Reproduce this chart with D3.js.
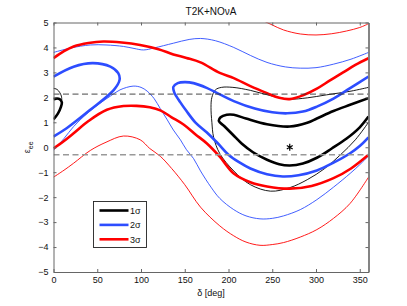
<!DOCTYPE html>
<html>
<head>
<meta charset="utf-8">
<script src="https://cdn.jsdelivr.net/npm/d3@7"></script>
<style>
  body { margin: 0; background: #fff; }
  text { font-family: "Liberation Sans", Arial, sans-serif; fill: #111; }
</style>
</head>
<body>
<div class="contain"></div>
<script>
// tick labels
const xTicks = [0, 50, 100, 150, 200, 250, 300, 350];
const yTicks = [-5, -4, -3, -2, -1, 0, 1, 2, 3, 4, 5];
const legendLabels = ["1σ", "2σ", "3σ"];

// contours, [delta, eps_ee]
// 3 sigma, thick
const red3ThickUp = [[0,3.57],[12,3.85],[23,4.04],[40,4.18],[57,4.24],[78,4.2],[99,4.1],[120,3.93],[137,3.72],[152,3.58],[168,3.4],[190,2.98],[206,2.77],[225,2.45],[244,2.17],[258,1.98],[270,1.93],[285,2.08],[301,2.35],[316,2.68],[331,3.0],[345,3.3],[360,3.57]];
const red3ThickLow = [[0,-0.05],[12,0.25],[23,0.56],[40,1.05],[61,1.5],[80,1.65],[95,1.66],[110,1.6],[122,1.48],[135,1.2],[149,0.9],[162,0.52],[175,0.16],[190,-0.38],[206,-1.05],[225,-1.4],[244,-1.57],[270,-1.66],[295,-1.55],[320,-1.24],[340,-0.85],[360,-0.3]];
// 3 sigma, thin
const red3ThinUp = [[238,5.1],[250,4.9],[263,4.7],[282,4.54],[300,4.5],[318,4.55],[335,4.66],[350,4.8],[360,4.95]];
const red3ThinLow = [[0,-1.2],[12,-0.92],[23,-0.64],[42,-0.13],[60,0.2],[80,0.45],[99,0.3],[110,-0.05],[122,-0.36],[135,-0.85],[150,-1.5],[168,-2.4],[190,-3.15],[206,-3.55],[220,-3.8],[236,-3.93],[250,-3.9],[263,-3.82],[282,-3.6],[301,-3.3],[320,-2.85],[339,-2.25],[360,-1.2]];
// 2 sigma, thick
const blue2ThickL = [[0,2.83],[23,3.23],[45,3.37],[65,3.23],[74,2.97],[75.5,2.7],[69,2.3],[42,1.5],[15,0.76],[0,0.43]];
const blue2ThickR = [[360,2.83],[339,2.37],[320,1.95],[301,1.63],[285,1.43],[267,1.36],[250,1.4],[230,1.55],[206,1.85],[190,2.12],[175,2.38],[160,2.57],[150,2.61],[142,2.57],[137,2.42],[138,2.2],[145,1.8],[152,1.45],[162,1.0],[175,0.6],[188,0.15],[200,-0.3],[212,-0.6],[225,-0.85],[244,-1.08],[262,-1.17],[280,-1.12],[301,-0.93],[320,-0.62],[339,-0.24],[350,0.05],[360,0.4]];
// 2 sigma, thin
const blue2ThinUp = [[0,3.8],[20,3.98],[42,4.1],[60,4.1],[80,4.04],[92,3.96],[103,3.9],[115,3.98],[137,4.17],[155,4.32],[168,4.36],[185,4.27],[206,4.0],[225,3.68],[244,3.4],[265,3.22],[282,3.17],[300,3.19],[320,3.33],[340,3.53],[360,3.8]];
const blue2ThinLow = [[0,-0.12],[12,0.35],[23,0.83],[40,1.4],[53,1.76],[65,2.05],[76,2.3],[91,2.45],[100,2.4],[107,2.25],[115,1.95],[122,1.55],[130,1.1],[137,0.69],[145,0.3],[152,-0.1],[160,-0.45],[168,-0.95],[180,-1.6],[190,-2.05],[206,-2.5],[220,-2.75],[236,-2.87],[250,-2.85],[263,-2.75],[282,-2.5],[301,-2.1],[320,-1.6],[339,-1.05],[350,-0.7],[360,-0.35]];
// 1 sigma, thick
const black1ThickL = [[0,1.12],[5,1.35],[8.5,1.62],[9.5,1.8],[7,1.93],[3,1.95],[0,1.92]];
const black1ThickR = [[360,1.97],[339,1.7],[320,1.45],[301,1.15],[290,0.98],[270,0.83],[244,0.92],[220,1.15],[206,1.3],[198,1.3],[191,1.2],[189,1.05],[195,0.85],[205,0.5],[215,0.15],[228,-0.2],[244,-0.5],[258,-0.68],[270,-0.73],[285,-0.65],[301,-0.42],[318,-0.05],[335,0.35],[350,0.8],[360,1.23]];
// 1 sigma, thin
const black1ThinL = [[0,2.36],[4,2.32],[7,2.2],[9,2.05],[9.5,1.9]];
const black1ThinR = [[360,2.4],[340,2.25],[312,2.1],[290,1.98],[270,1.93],[250,2.05],[225,2.28],[205,2.4],[192,2.4],[185,2.3],[181,2.0],[180,1.6],[181,1.0],[183,0.4],[190,-0.25],[206,-0.95],[225,-1.5],[248,-1.76],[270,-1.62],[290,-1.3],[310,-0.85],[328,-0.3],[345,0.3],[360,1.0]];

// reference lines and best fit
const refLines = [2.13, -0.3];
const bestFit = [[270, 0]];

const W = 407, H = 306;
const m = {left: 53.5, right: 38.5, top: 22.5, bottom: 34};

const svg = d3.select(".contain").append("svg")
  .attr("width", W).attr("height", H);

const x = d3.scaleLinear().domain([0, 360]).range([m.left, W - m.right]);
const y = d3.scaleLinear().domain([-5, 5]).range([H - m.bottom, m.top]);

svg.append("defs").append("clipPath").attr("id", "clip")
  .append("rect")
  .attr("x", m.left).attr("y", m.top)
  .attr("width", x(360) - x(0)).attr("height", y(-5) - y(5));

const line = d3.line()
  .x(d => x(d[0])).y(d => y(d[1]))
  .curve(d3.curveCatmullRom.alpha(0.5));

const plot = svg.append("g").attr("clip-path", "url(#clip)");

const RED = "#ff0000", BLUE = "#2d4dff", BLACK = "#000";
const curves = [
  [red3ThinUp, RED, 0.9], [red3ThinLow, RED, 0.9],
  [blue2ThinUp, BLUE, 0.9], [blue2ThinLow, BLUE, 0.9],
  [black1ThinL, BLACK, 0.9], [black1ThinR, BLACK, 0.9],
  [red3ThickUp, RED, 2.6], [red3ThickLow, RED, 2.6],
  [blue2ThickL, BLUE, 2.6], [blue2ThickR, BLUE, 2.6],
  [black1ThickL, BLACK, 2.6], [black1ThickR, BLACK, 2.6]
];

curves.forEach(c => {
  plot.append("path")
    .attr("d", line(c[0]))
    .attr("fill", "none")
    .attr("stroke", c[1])
    .attr("stroke-width", c[2])
    .attr("stroke-linejoin", "round");
});

// dashed lines
plot.selectAll(".ref").data(refLines).enter().append("line")
  .attr("x1", x(0)).attr("x2", x(360))
  .attr("y1", d => y(d)).attr("y2", d => y(d))
  .attr("stroke", (d, i) => i === 0 ? "#333" : "#999")
  .attr("stroke-width", (d, i) => i === 0 ? 0.9 : 1.3)
  .attr("stroke-dasharray", "6,3.5");

// best fit marker
plot.selectAll(".bf").data(bestFit).enter().append("path")
  .attr("d", d3.symbol(d3.symbolAsterisk, 32))
  .attr("transform", d => `translate(${x(d[0])},${y(d[1])})`)
  .attr("fill", "none")
  .attr("stroke", "#000")
  .attr("stroke-width", 1.2);

// axes
const frame = "#666";
function styleAxis(g) {
  g.select(".domain").attr("stroke", frame);
  g.selectAll(".tick line").attr("stroke", frame);
  g.selectAll(".tick text").attr("font-size", 9).attr("fill", "#111")
    .attr("font-family", '"Liberation Sans", Arial, sans-serif');
}

svg.append("g")
  .attr("transform", `translate(0,${y(-5)})`)
  .call(d3.axisBottom(x).tickValues(xTicks).tickSizeInner(-3).tickSizeOuter(0).tickPadding(5))
  .call(styleAxis);
svg.append("g")
  .attr("transform", `translate(0,${y(5)})`)
  .call(d3.axisTop(x).tickValues(xTicks).tickSizeInner(-3).tickSizeOuter(0).tickFormat(""))
  .call(styleAxis);
svg.append("g")
  .attr("transform", `translate(${x(0)},0)`)
  .call(d3.axisLeft(y).tickValues(yTicks).tickSizeInner(-3).tickSizeOuter(0).tickPadding(5))
  .call(styleAxis);
svg.append("g")
  .attr("transform", `translate(${x(360)},0)`)
  .call(d3.axisRight(y).tickValues(yTicks).tickSizeInner(-3).tickSizeOuter(0).tickFormat(""))
  .call(styleAxis)
  .select(".domain").attr("stroke-width", 1.6);

// titles
svg.append("text")
  .attr("x", (x(0) + x(360)) / 2).attr("y", 15)
  .attr("text-anchor", "middle").attr("font-size", 10)
  .text("T2K+NOνA");

svg.append("text")
  .attr("x", (x(0) + x(360)) / 2).attr("y", 296)
  .attr("text-anchor", "middle").attr("font-size", 9)
  .text("δ [deg]");

const yl = svg.append("text")
  .attr("transform", `translate(30,${y(0)}) rotate(-90)`)
  .attr("text-anchor", "middle").attr("font-size", 9);
yl.append("tspan").text("ε");
yl.append("tspan").attr("font-size", 7).attr("dy", 2.5).text("ee");

// legend
const lg = svg.append("g").attr("transform", "translate(93.5,201.5)");
lg.append("rect").attr("width", 53).attr("height", 46)
  .attr("fill", "#fff").attr("stroke", "#222").attr("stroke-width", 0.9);
const legendColors = [BLACK, BLUE, RED];
legendLabels.forEach((t, i) => {
  const yy = 9 + i * 14.4;
  lg.append("line").attr("x1", 6).attr("x2", 35).attr("y1", yy).attr("y2", yy)
    .attr("stroke", legendColors[i]).attr("stroke-width", 2.6);
  lg.append("text").attr("x", 36.5).attr("y", yy + 3.2).attr("font-size", 9).text(t);
});
</script>
</body>
</html>
